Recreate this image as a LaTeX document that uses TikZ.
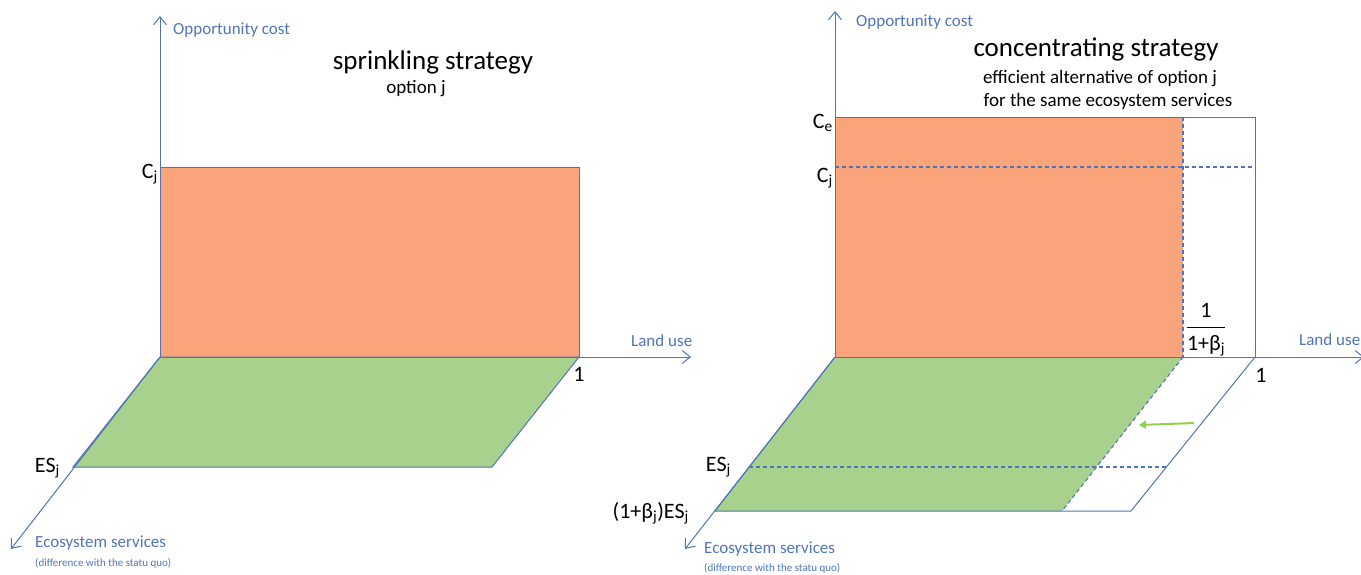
\documentclass[tikz,border=0pt]{standalone}
\usepackage{fontspec}
\setmainfont{Carlito}
\usetikzlibrary{arrows.meta}
\definecolor{axblue}{HTML}{4F74B8}
\definecolor{costor}{HTML}{F9A47B}
\definecolor{esgreen}{HTML}{A9D18E}
\definecolor{arrgreen}{HTML}{92D050}
\tikzset{
  axis/.style={draw=axblue, line width=1pt, -{Straight Barb[length=8pt,width=13pt,line width=1pt]}},
  edge/.style={draw=axblue, line width=1pt},
  dline/.style={draw=axblue, line width=1.1pt, dash pattern=on 4pt off 3pt},
  axlab/.style={text=axblue, font=\fontsize{17}{20}\selectfont, inner sep=0pt},
  smlab/.style={text=axblue, font=\fontsize{11}{13}\selectfont, inner sep=0pt},
  val/.style={text=black, font=\fontsize{22}{25}\selectfont, inner sep=0pt},
  title/.style={text=black, font=\fontsize{27}{30}\selectfont, inner sep=0pt},
  subt/.style={text=black, font=\fontsize{19}{22}\selectfont, inner sep=0pt}
}
\begin{document}
\begin{tikzpicture}[x=1pt,y=-1pt]
\useasboundingbox (0,0) rectangle (1361,574);
% ---------------- left panel ----------------
\coordinate (LO) at (160,357);
\coordinate (LY) at (160,16);
\coordinate (LX) at (691,357);
\coordinate (LZ) at (11,549);
\coordinate (LC) at (579,167);
\coordinate (L1) at (579,357);
\coordinate (LA) at (73,467);
\coordinate (LB) at (492,467);
\fill[costor] (LO) rectangle (LC);
\draw[edge] (LO) rectangle (LC);
\fill[esgreen] (LO) -- (L1) -- (LB) -- (LA) -- cycle;
\draw[edge] (LO) -- (L1) -- (LB) -- (LA) -- cycle;
\draw[axis] (LO) -- (LY);
\draw[axis] (LO) -- (LX);
\draw[axis] (LO) -- (LZ);
\node[axlab, anchor=base west] (loc) at (173,34) {Opportunity cost};
\node[axlab, anchor=base west] (llu) at (631,346) {Land use};
\node[axlab, anchor=base west] (les) at (35,547) {Ecosystem services};
\node[smlab, anchor=base west] (ldif) at (35,566) {(difference with the statu quo)};
\node[title, anchor=base] (ltit) at (433,69) {sprinkling strategy};
\node[subt, anchor=base] (lsub) at (416,93) {option j};
\node[val, anchor=base east] (lcj) at (158,178) {C\textsubscript{j}};
\node[val, anchor=base east] (lesj) at (60,472) {ES\textsubscript{j}};
\node[val, anchor=base] (l1) at (579,381) {1};
% ---------------- right panel ----------------
\coordinate (RO) at (835,357);
\coordinate (RY) at (835,11);
\coordinate (RX) at (1364,357);
\coordinate (RZ) at (685,549);
\coordinate (RCe) at (1183,117);
\coordinate (RT) at (1255,117);
\coordinate (RF) at (1183,357);
\coordinate (R1) at (1255,357);
\coordinate (RBr) at (1131,511);
\coordinate (RBg) at (1062,511);
\coordinate (RBl) at (715,511);
\coordinate (REl) at (749,467);
\coordinate (REr) at (1169,467);
\coordinate (RCl) at (835,167);
\coordinate (RCr) at (1255,167);
\fill[costor] (RO) rectangle (RCe);
\fill[esgreen] (RO) -- (RF) -- (RBg) -- (RBl) -- cycle;
\draw[edge] (RO) rectangle (RT);
\draw[edge] (R1) -- (RBr) -- (RBl) -- (RO);
\draw[dline] (RCe) -- (RF);
\draw[dline] (RCl) -- (RCr);
\draw[dline] (RF) -- (RBg);
\draw[dline] (REl) -- (REr);
\draw[axis] (RO) -- (RY);
\draw[axis] (RO) -- (RX);
\draw[axis] (RO) -- (RZ);
\coordinate (GA) at (1194,423);
\coordinate (GB) at (1139,425);
\draw[draw=arrgreen, line width=2pt, -{Triangle[length=7pt,width=8pt]}] (GA) -- (GB);
\node[axlab, anchor=base west] (roc) at (856,26) {Opportunity cost};
\node[axlab, anchor=base west] (rlu) at (1299,345) {Land use};
\node[axlab, anchor=base west] (res) at (704,553) {Ecosystem services};
\node[smlab, anchor=base west] (rdif) at (704,571) {(difference with the statu quo)};
\node[title, anchor=base] (rtit) at (1096,56) {concentrating strategy};
\node[subt, anchor=base] (rsub1) at (1100,83) {efficient alternative of option j};
\node[subt, anchor=base] (rsub2) at (1108,106) {for the same ecosystem services};
\node[val, anchor=base east] (rce) at (833,128) {C\textsubscript{e}};
\node[val, anchor=base east] (rcj) at (833,182) {C\textsubscript{j}};
\node[val, anchor=base east] (resj) at (731,471) {ES\textsubscript{j}};
\node[val, anchor=base east] (rbes) at (689,518) {(1+β\textsubscript{j})ES\textsubscript{j}};
\node[val, anchor=base] (r1) at (1261,382) {1};
\node[val, anchor=base] (fnum) at (1206,317) {1};
\node[val, anchor=base] (fden) at (1206,350) {1+β\textsubscript{j}};
\draw[black, line width=0.8pt] (fden.west |- 0,327) coordinate (fbl) -- (fden.east |- 0,327) coordinate (fbr);
\end{tikzpicture}
\end{document}
